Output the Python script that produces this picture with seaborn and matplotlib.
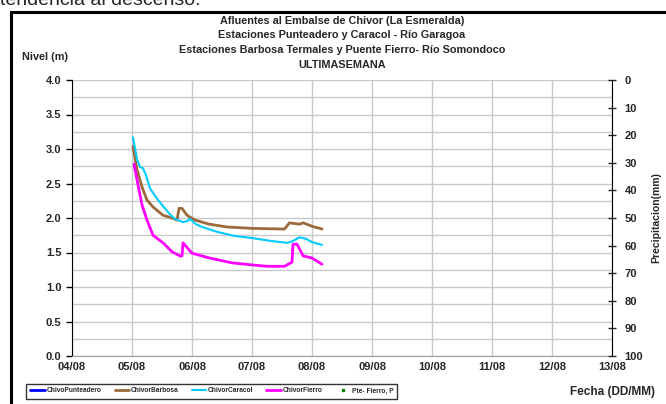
import pandas as pd
import seaborn as sns
import matplotlib.pyplot as plt
import matplotlib.dates as mdates
from matplotlib.patches import Rectangle

# Hours after 05/08 00:00 and river level (m) per station
caracol_h = [0.4, 2, 3.2, 4.4, 5.6, 7.2, 9.6, 12, 15, 17, 20.4, 22.4, 23, 25.6, 28, 34, 41, 48, 55, 62, 64, 67, 69.5, 72, 76]
caracol_v = [3.17, 2.85, 2.74, 2.72, 2.62, 2.43, 2.30, 2.19, 2.06, 1.99, 1.94, 1.96, 1.99, 1.91, 1.87, 1.80, 1.74, 1.71, 1.67, 1.64, 1.66, 1.72, 1.70, 1.65, 1.61]

barbosa_h = [0.4, 2, 4, 6, 8.4, 12.4, 16, 18, 18.8, 20, 22, 25.2, 31, 38, 48, 61, 63, 67, 68.5, 72, 76]
barbosa_v = [3.04, 2.70, 2.45, 2.26, 2.16, 2.04, 2.00, 1.97, 2.14, 2.14, 2.04, 1.97, 1.91, 1.87, 1.85, 1.84, 1.93, 1.91, 1.93, 1.88, 1.84]

fierro_h = [0.8, 2.4, 4, 6, 8.4, 12.4, 16, 19.2, 20, 20.4, 24, 31, 40, 48, 54, 61, 64, 64.4, 66, 68.5, 72, 76]
fierro_v = [2.78, 2.48, 2.19, 1.97, 1.75, 1.64, 1.51, 1.45, 1.45, 1.64, 1.49, 1.42, 1.35, 1.32, 1.30, 1.30, 1.36, 1.62, 1.62, 1.45, 1.42, 1.33]

punteadero_h = []
punteadero_v = []
precip_h = []
precip_mm = []

start = pd.Timestamp("2020-08-05")


def to_dates(hours):
    return start + pd.to_timedelta(hours, unit="h")


sns.set_style("white")
plt.rcParams["font.family"] = ["Liberation Sans", "DejaVu Sans"]

fig = plt.figure(figsize=(6.66, 4.04), dpi=100)
ax = fig.add_axes([72 / 666, 1 - 356 / 404, 540 / 666, 276 / 404])

ax.plot(to_dates(punteadero_h), punteadero_v, color="#0000ff", lw=2, label="ChivoPunteadero")
sns.lineplot(x=to_dates(barbosa_h), y=barbosa_v, ax=ax, color="#9c6a3a", lw=2, label="ChivorBarbosa")
sns.lineplot(x=to_dates(caracol_h), y=caracol_v, ax=ax, color="#00ccff", lw=1.5, label="ChivorCaracol")
sns.lineplot(x=to_dates(fierro_h), y=fierro_v, ax=ax, color="#ff00ff", lw=2, label="ChivorFierro")

ax.set_xlim(pd.Timestamp("2020-08-04"), pd.Timestamp("2020-08-13"))
ax.set_ylim(0, 4)
ax.set_yticks([0, 0.5, 1, 1.5, 2, 2.5, 3, 3.5, 4])
ax.set_yticks([0.25, 0.75, 1.25, 1.75, 2.25, 2.75, 3.25, 3.75], minor=True)
ax.yaxis.set_major_formatter(plt.FormatStrFormatter("%.1f"))
ax.xaxis.set_major_locator(mdates.DayLocator())
ax.xaxis.set_major_formatter(mdates.DateFormatter("%d/%m"))
ax.grid(True, which="both", axis="y", color="#c8c8c8", lw=1)
ax.grid(True, which="major", axis="x", color="#c8c8c8", lw=1)
ax.tick_params(axis="y", which="major", direction="out", length=4, width=1, labelsize=8, color="black")
ax.tick_params(axis="y", which="minor", length=0)
ax.tick_params(axis="x", length=0, labelsize=8, pad=4)
for lab in ax.get_xticklabels() + ax.get_yticklabels():
    lab.set_fontweight("bold")
ax.spines["left"].set_color("black")
ax.spines["top"].set_visible(False)
ax.spines["right"].set_visible(False)
ax.spines["bottom"].set_color("#a0a0a0")
ax.set_xlabel("")
ax.set_ylabel("")
ax.legend().remove()

# Secondary axis for precipitation (inverted)
ax2 = ax.twinx()
ax2.plot(to_dates(precip_h), precip_mm, ls="none", marker="s", ms=2, color="#008000", label="Pte- Fierro, P")
ax2.set_ylim(100, 0)
ax2.set_yticks(range(0, 101, 10))
ax2.tick_params(axis="y", direction="inout", length=6, width=1, labelsize=8, pad=6)
for lab in ax2.get_yticklabels():
    lab.set_fontweight("bold")
for s in ["left", "top", "bottom"]:
    ax2.spines[s].set_visible(False)
ax2.spines["right"].set_color("black")
ax2.set_ylabel("Precipitacion(mm)", fontsize=7.5, fontweight="bold", labelpad=6)

titles = ["Afluentes al Embalse de Chivor (La Esmeralda)",
          "Estaciones Punteadero y Caracol - Río Garagoa",
          "Estaciones Barbosa Termales y Puente Fierro- Río Somondoco",
          "ULTIMASEMANA"]
for i, t in enumerate(titles):
    fig.text(342 / 666, 1 - (21 + 14.5 * i) / 404, t, ha="center", va="center",
             fontsize=7.8, fontweight="bold")

fig.text(22 / 666, 1 - 57 / 404, "Nivel (m)", ha="left", va="center", fontsize=7.8, fontweight="bold")
fig.text(655 / 666, 1 - 392 / 404, "Fecha (DD/MM)", ha="right", va="center", fontsize=8.5, fontweight="bold")
fig.text(0.0, 1 - 5 / 404, "tendencia al descenso.", ha="left", va="baseline", fontsize=14)

handles = ax.get_lines()[:4] + ax2.get_lines()
leg = fig.legend(handles=handles, labels=[h.get_label() for h in handles],
                 loc="center left", bbox_to_anchor=(23 / 666, 1 - 391 / 404),
                 ncol=5, frameon=True, fancybox=False, edgecolor="black",
                 handlelength=2.2, columnspacing=2.0, handletextpad=0.2, borderpad=0.6,
                 prop={"weight": "bold", "size": 4.8})
leg.get_frame().set_linewidth(1)
leg.get_frame().set_boxstyle("square", pad=0)

fig.patches.append(Rectangle((11 / 666, -0.05), 0.99, 1 - 12 / 404 + 0.05,
                             transform=fig.transFigure, fill=False, ec="black", lw=2.2))

fig.savefig("out.png", dpi=100)
